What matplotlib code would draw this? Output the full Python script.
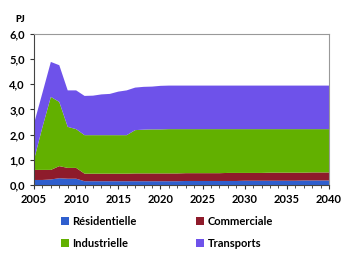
import matplotlib
matplotlib.use("Agg")
import matplotlib.pyplot as plt
import numpy as np
from matplotlib.ticker import MultipleLocator, FuncFormatter
from matplotlib.patches import Patch

years = list(range(2005, 2041))
# cumulative tops
res_top = [0.20, 0.20, 0.22, 0.27, 0.25, 0.25, 0.15, 0.15, 0.15, 0.15, 0.15, 0.15, 0.15, 0.15,
           0.15, 0.15, 0.15, 0.15, 0.16, 0.16, 0.16, 0.16, 0.16, 0.16, 0.16, 0.17, 0.17, 0.17,
           0.17, 0.17, 0.17, 0.17, 0.18, 0.18, 0.18, 0.18]
com_top = [0.60, 0.60, 0.60, 0.75, 0.68, 0.68, 0.45, 0.45, 0.45, 0.45, 0.45, 0.45, 0.46, 0.46,
           0.46, 0.46, 0.46, 0.46, 0.47, 0.47, 0.47, 0.47, 0.47, 0.48, 0.48, 0.48, 0.48, 0.48,
           0.49, 0.49, 0.49, 0.49, 0.49, 0.50, 0.50, 0.50]
ind_top = [1.00, 2.30, 3.50, 3.30, 2.31, 2.22, 1.98, 1.98, 1.98, 1.98, 1.98, 1.98, 2.18, 2.20,
           2.21, 2.21, 2.22, 2.22, 2.22, 2.22, 2.22, 2.22, 2.22, 2.22, 2.22, 2.22, 2.22, 2.22,
           2.22, 2.22, 2.22, 2.22, 2.22, 2.22, 2.22, 2.22]
tot_top = [2.44, 3.66, 4.89, 4.76, 3.76, 3.76, 3.54, 3.55, 3.60, 3.62, 3.71, 3.76, 3.87, 3.90,
           3.91, 3.94, 3.95, 3.95, 3.95, 3.95, 3.95, 3.95, 3.95, 3.95, 3.95, 3.95, 3.95, 3.95,
           3.95, 3.95, 3.95, 3.95, 3.95, 3.95, 3.95, 3.95]

residentielle = np.array(res_top)
commerciale = np.array(com_top) - np.array(res_top)
industrielle = np.array(ind_top) - np.array(com_top)
transports = np.array(tot_top) - np.array(ind_top)

labels = ["Résidentielle", "Commerciale", "Industrielle", "Transports"]
colors = ["#2f5fce", "#8e1b2b", "#62b000", "#6e52ea"]

plt.rcParams['font.family'] = ['Lato', 'DejaVu Sans']
fig = plt.figure(figsize=(3.52, 2.66), dpi=100)
ax = fig.add_axes([34/352, 1-185/266, (329-34)/352, (185-34)/266])
ax.stackplot(years, residentielle, commerciale, industrielle, transports,
             colors=colors, linewidth=0)
ax.set_xlim(2005, 2040)
ax.set_ylim(0, 6)
ax.xaxis.set_major_locator(MultipleLocator(5))
ax.xaxis.set_minor_locator(MultipleLocator(1))
ax.yaxis.set_major_locator(MultipleLocator(1))
ax.yaxis.set_major_formatter(FuncFormatter(lambda v, p: f"{v:.1f}".replace('.', ',')))
ax.tick_params(axis='both', labelsize=8, width=0.8, length=3, colors='#333333', labelcolor='black')
ax.tick_params(axis='x', which='minor', length=2.5, width=0.6, colors='#333333')
for lab in ax.get_xticklabels() + ax.get_yticklabels():
    lab.set_fontweight('bold')
for s in ['top', 'right']:
    ax.spines[s].set_color('#999999')
    ax.spines[s].set_linewidth(0.8)
for s in ['left', 'bottom']:
    ax.spines[s].set_color('#444444')
    ax.spines[s].set_linewidth(0.8)

fig.text(15/352, 1-20/266, "PJ", fontsize=6.5, fontweight='heavy', ha='left', va='center')

handles = [Patch(facecolor=c, edgecolor='none') for c in colors]
order = [0, 2, 1, 3]
leg = fig.legend([handles[i] for i in order], [labels[i] for i in order],
                 loc='upper left', bbox_to_anchor=(61/352, 1-216/266), ncol=2,
                 frameon=False, handlelength=0.7, handleheight=0.7,
                 handletextpad=0.3, columnspacing=5.4, labelspacing=1.0,
                 borderpad=0, borderaxespad=0,
                 prop={'weight': 'bold', 'size': 8})
fig.savefig("out.png", dpi=100)
